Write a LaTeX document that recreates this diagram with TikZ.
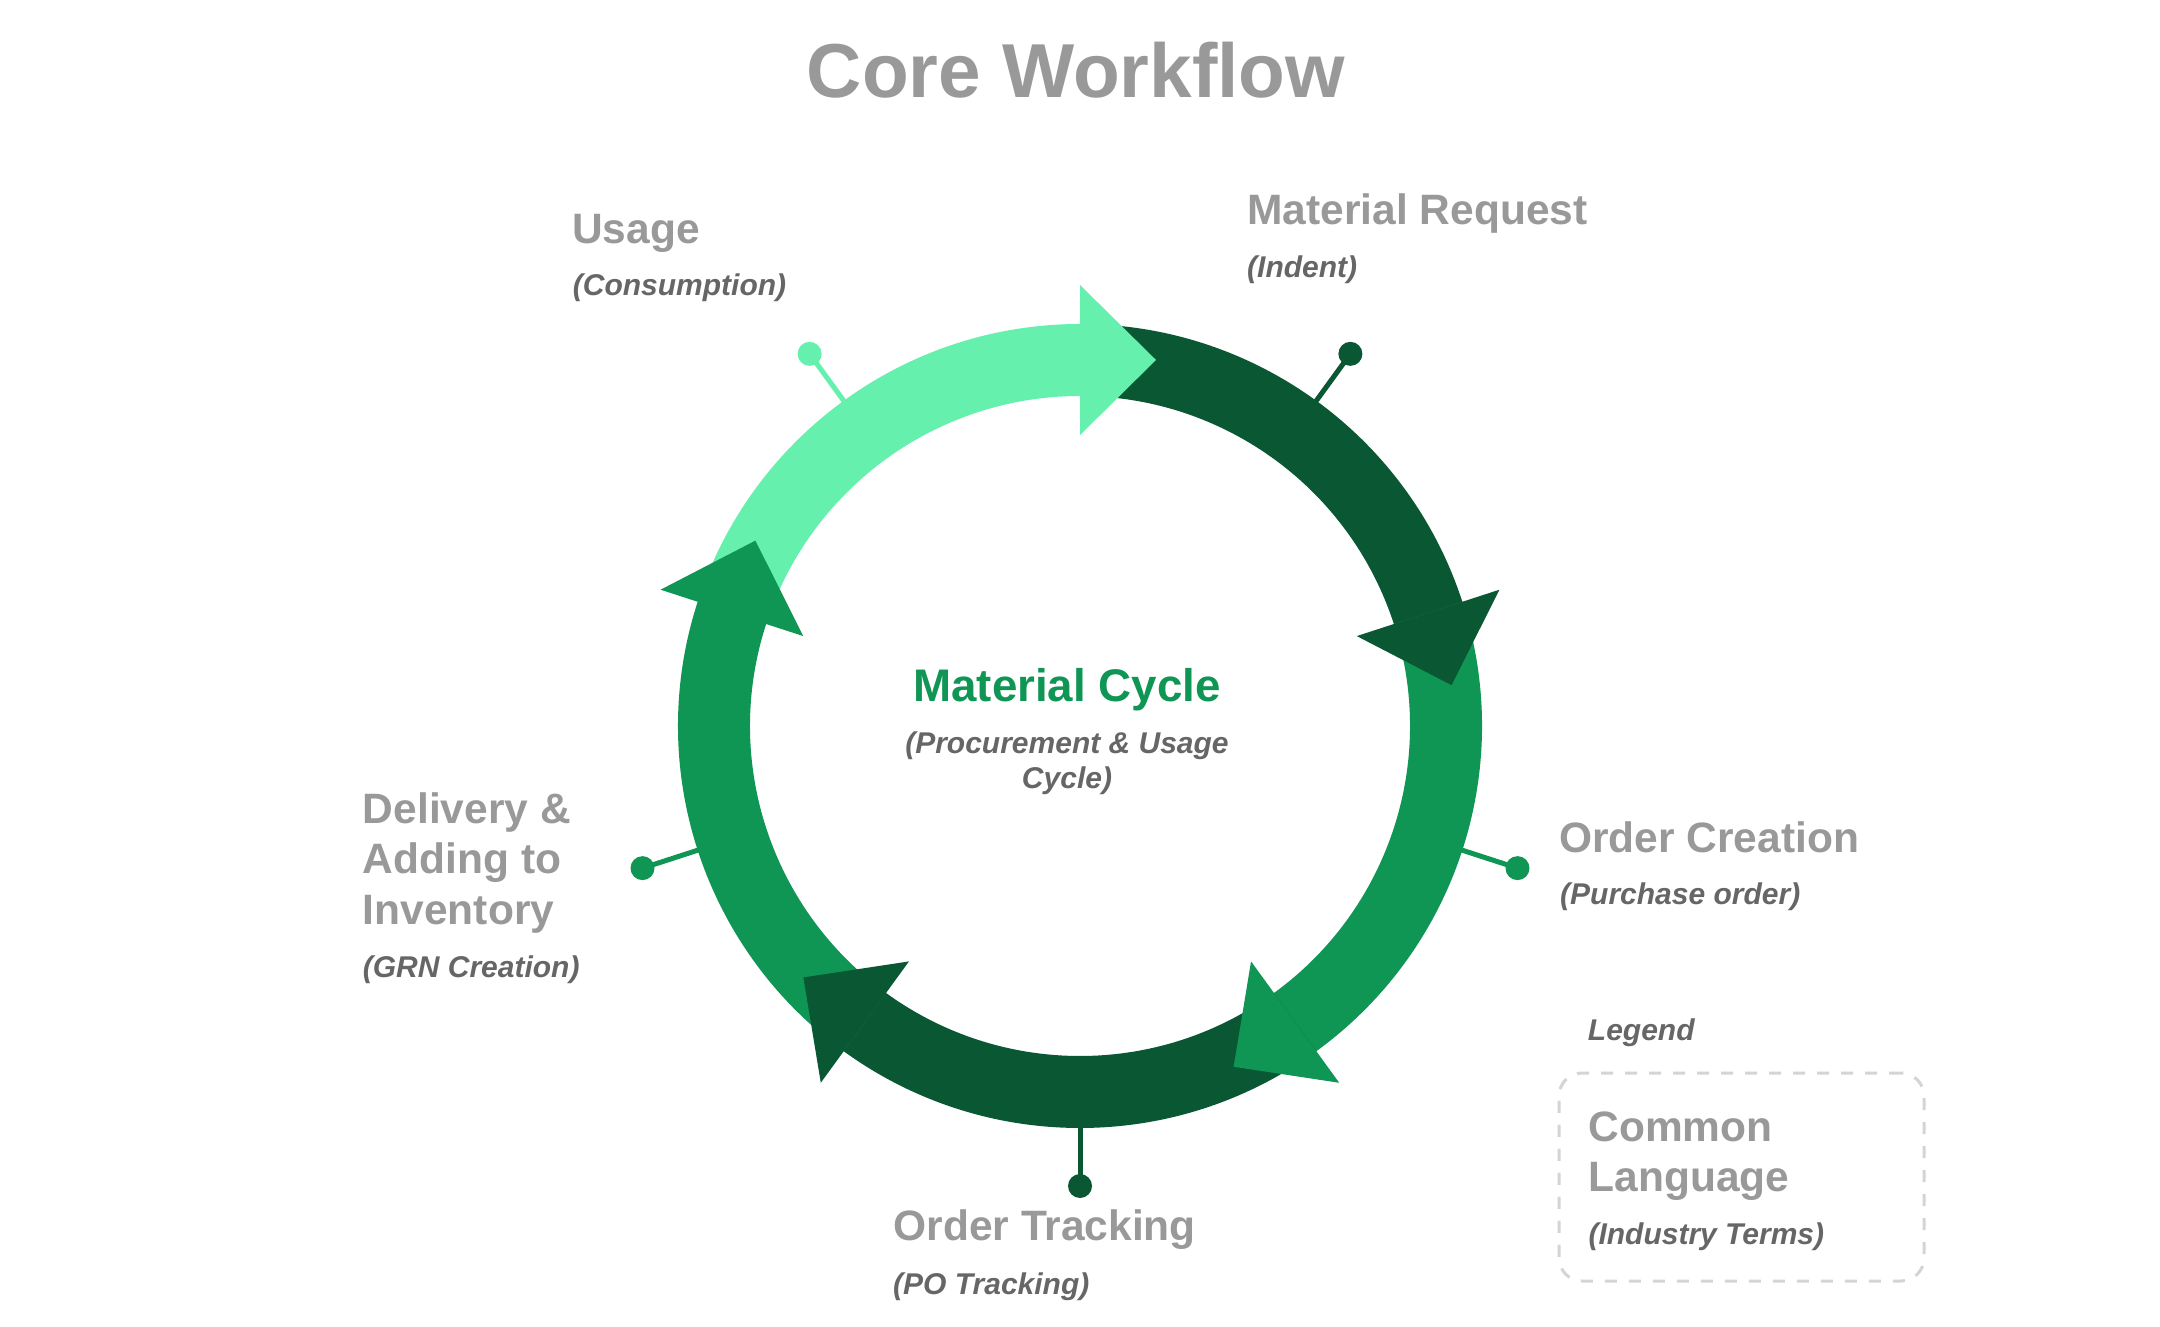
\documentclass[tikz,border=0pt]{standalone}
\usepackage{fontspec}
\setmainfont{Liberation Sans}
\usetikzlibrary{calc}
\definecolor{lightg}{HTML}{66F0AE}
\definecolor{medg}{HTML}{109654}
\definecolor{darkg}{HTML}{0A5734}
\definecolor{labgray}{HTML}{999999}
\definecolor{subgray}{HTML}{666666}
\definecolor{boxgray}{HTML}{D4D4D4}
\begin{document}
\begin{tikzpicture}[x=1pt,y=1pt,
  lab/.style={font=\fontsize{42.5}{51}\selectfont\bfseries, text=labgray, anchor=base west, inner sep=0pt},
  sublab/.style={font=\fontsize{30}{36}\selectfont\bfseries\itshape, text=subgray, anchor=base west, inner sep=0pt},
  markerline/.style={line width=5pt},
  legendbox/.style={draw=boxgray, line width=3pt, dash pattern=on 12pt off 12pt, rounded corners=23pt, inner sep=0pt, outer sep=0pt, minimum width=365pt, minimum height=208pt, anchor=south west}
]
\useasboundingbox (0,0) rectangle (2160,1326);
\fill[white] (0,0) rectangle (2160,1326);
\coordinate (C) at (1080,600);
\def\ro{402pt}\def\ri{330pt}\def\rm{366pt}
% ring bodies
\foreach \a/\b/\c in {162/88/lightg, 90/16/darkg, 18/-56/medg, -54/-128/darkg, -126/-200/medg}
  \fill[\c] ($(C)+(\a:\ro)$) arc[start angle=\a, end angle=\b, radius=\ro] -- ($(C)+(\b:\ri)$) arc[start angle=\b, end angle=\a, radius=\ri] -- cycle;
% arrow heads
\foreach \t/\c in {90/lightg, 18/darkg, -54/medg, -126/darkg, 162/medg}
  \fill[\c] ($(C)+(\t:441pt)$) -- ($(C)+(\t:\rm)+({\t-90}:76pt)$) -- ($(C)+(\t:291pt)$) -- cycle;
% markers
\foreach \t/\c/\n in {126/lightg/1, 54/darkg/2, -18/medg/3, -90/darkg/4, -162/medg/5} {
  \coordinate (ma\n) at ($(C)+(\t:398pt)$);
  \coordinate (mb\n) at ($(C)+(\t:460pt)$);
  \draw[\c, markerline] (ma\n) -- (mb\n);
  \fill[\c] (mb\n) circle[radius=12pt];
}
% title
\node[font=\fontsize{76.5}{90}\selectfont\bfseries, text=labgray, anchor=base, inner sep=0pt] (title) at (1076,1228.4) {Core Workflow};
% labels
\node[lab] (usage) at (572,1082) {Usage};
\node[sublab] (usagesub) at (572.7,1030.5) {(Consumption)};
\node[lab] (mr) at (1247.3,1101) {Material Request};
\node[sublab] (mrsub) at (1247,1048.7) {(Indent)};
\node[lab] (oc) at (1559,473.3) {Order Creation};
\node[sublab] (ocsub) at (1560,421) {(Purchase order)};
\node[lab] (ot) at (893.3,85.3) {Order Tracking};
\node[sublab] (otsub) at (893,32) {(PO Tracking)};
\node[lab] (del1) at (362.7,502.7) {Delivery \&};
\node[lab] (del2) at (362.7,452.7) {Adding to};
\node[lab] (del3) at (362.7,401) {Inventory};
\node[sublab] (delsub) at (362.7,348.3) {(GRN Creation)};
% centre
\node[font=\fontsize{45.7}{55}\selectfont\bfseries, text=medg, anchor=base, inner sep=0pt] (mc) at (1067,624.3) {Material Cycle};
\node[sublab, anchor=base] (mcsub1) at (1067,572.7) {(Procurement \& Usage};
\node[sublab, anchor=base] (mcsub2) at (1067,537.7) {Cycle)};
% legend
\node[sublab] (legend) at (1587.7,285.3) {Legend};
\node[legendbox] (lbox) at (1559,45) {};
\node[lab] (cl1) at (1588.3,184.3) {Common};
\node[lab] (cl2) at (1588.3,134.3) {Language};
\node[sublab] (clsub) at (1588.3,81.5) {(Industry Terms)};
\end{tikzpicture}
\end{document}
